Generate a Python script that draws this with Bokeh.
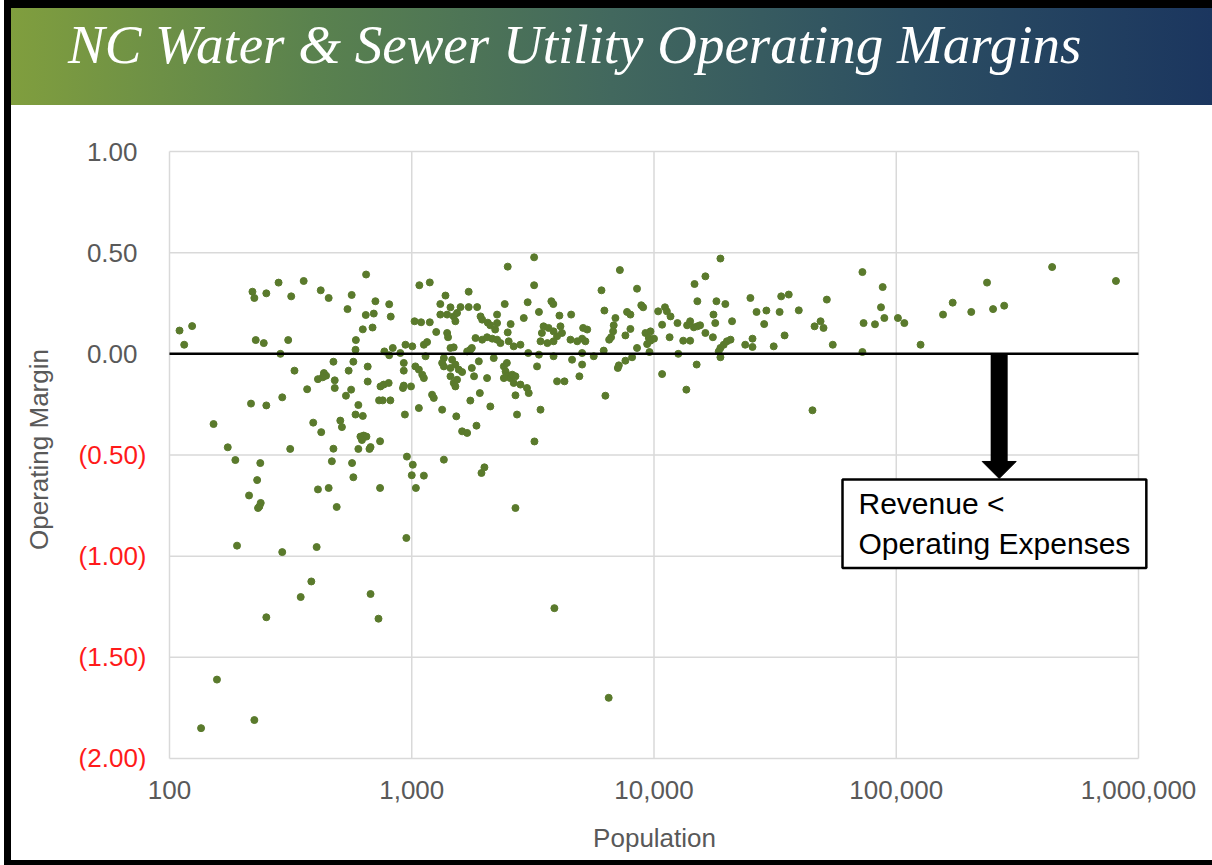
import html
import numpy as np
from bokeh.plotting import figure
from bokeh.models import NumeralTickFormatter, FixedTicker, CustomJSTickFormatter, Div, Label
from bokeh.layouts import column, row
from bokeh.embed import file_html
from bokeh.resources import INLINE
from bokeh.core.properties import value

# ---------------- data ----------------
population = [
    110, 124, 115, 220, 224, 251, 282, 318, 358, 421, 454, 565, 648, 543, 708, 807,
    646, 697, 819, 628, 689, 588, 227, 245, 309, 586, 287, 835, 771, 807, 475, 574,
    658, 328, 549, 927, 434, 443, 410, 429, 481, 481, 370, 562, 535, 658, 743, 766,
    803, 920, 927, 993, 733, 759, 816, 1070, 292, 217, 251, 602, 586, 628, 937, 152,
    392, 423, 507, 515, 614, 633, 650, 623, 740, 602, 676, 669, 174, 187, 315, 475,
    237, 230, 468, 567, 574, 955, 1010, 1000, 213, 238, 232, 235, 410, 454, 490, 740,
    1040, 190, 292, 405, 950, 385, 348, 251, 676, 729, 157, 135, 224, 2680, 3880, 6500,
    1122, 1940,
    3200, 2490, 1075, 1187, 3200, 1718, 1378, 1312, 1445, 1590, 1718, 1862, 2420, 3010,
    3770, 3840, 1312, 1400, 1490, 1514, 1538, 1923, 1953, 2060, 2110, 2250, 2250, 2210,
    2560, 2900, 3350, 4070, 4550, 1027, 1093, 1187, 1262, 1400, 1412, 1833, 1953, 2046,
    2150, 2250, 2323, 2490, 2513, 2636, 2810, 3500, 3670, 3445, 3850, 3980, 4110, 4170,
    3400, 3630, 3850, 4520, 4820, 5050, 5210, 5100, 5300, 942, 1005, 1122, 1157, 1445,
    1490, 1745, 1770, 1693, 897, 1140, 1357, 1468, 2180, 3027, 3350, 3850, 4590, 5050,
    5640, 927, 1035, 1070, 1105, 1122, 1335, 1357, 1445, 1514, 1563, 1614, 1445, 1490,
    1514, 1538, 1770, 1892, 1808, 2046, 2400, 2470, 2440, 2470, 2550, 2600, 2680, 2400,
    2636, 2810, 2990, 3040, 3290, 3980, 4270, 4920, 5050, 1213, 1233, 1335, 1527, 1745,
    1910, 2110, 2680, 2720, 3400, 1614, 1693, 1850, 3210, 1357, 1995,
    18800, 7230, 16300, 14700, 6070, 8510, 25000, 33500, 36000, 15100, 18100, 19700,
    6240, 7740, 7990, 8860, 9020, 10400, 11100, 11300, 11700, 6930, 6820, 6780, 6650,
    6530, 7990, 7620, 9220, 9670, 9520, 10000, 9370, 9670, 10800, 11600, 12500, 13700,
    14100, 14600, 15100, 15500, 14100, 13200, 16300, 17500, 17600, 17900, 21000, 18800,
    19400, 20000, 20700, 18500, 23800, 25500, 25500, 26500, 29100, 28500, 33000, 34600,
    31200, 6200, 8120, 7620, 7160, 7090, 8510, 9580, 12600, 18800, 15000, 10800, 13600,
    6300,
    39600, 51700, 46000, 48700, 50100, 54700, 72500, 87900, 86500, 89300, 73300, 81700,
    72500, 101600, 108000, 126000, 156000, 171000, 204000, 237000, 251000, 279000,
    440000, 807000, 45100,
]
operating_margin = [
    0.115, 0.137, 0.045, 0.307, 0.276, 0.299, 0.352, 0.284, 0.36, 0.314, 0.276, 0.291,
    0.392, 0.221, 0.26, 0.245, 0.192, 0.199, 0.184, 0.121, 0.130, 0.068, 0.068, 0.053,
    0.068, 0.02, 0.0, 0.029, 0.012, -0.007, -0.039, -0.039, -0.063, -0.083, -0.083,
    -0.083, -0.095, -0.108, -0.125, -0.116, -0.131, -0.169, -0.175, -0.177, -0.207,
    -0.137, -0.161, -0.152, -0.144, -0.169, -0.157, -0.161, -0.23, -0.23, -0.23, -0.268,
    -0.215, -0.246, -0.255, -0.253, -0.3, -0.307, -0.3, -0.347, -0.34, -0.387, -0.33,
    -0.362, -0.409, -0.404, -0.409, -0.426, -0.432, -0.47, -0.461, -0.47, -0.462,
    -0.525, -0.47, -0.469, -0.54, -0.624, -0.531, -0.54, -0.61, -0.508, -0.548, -0.6,
    -0.7, -0.737, -0.762, -0.754, -0.67, -0.663, -0.757, -0.663, -0.663, -0.948, -0.98,
    -0.955, -0.91, -1.125, -1.202, -1.302, -1.187, -1.309, -1.61, -1.85, -1.81, -0.762,
    -1.257, -1.70, -0.602, -0.589,
    0.477, 0.431, 0.339, 0.353, 0.339, 0.307, 0.288, 0.246, 0.23, 0.231, 0.231, 0.231,
    0.246, 0.255, 0.26, 0.246, 0.194, 0.194, 0.185, 0.161, 0.202, 0.185, 0.169, 0.154,
    0.141, 0.194, 0.152, 0.12, 0.147, 0.177, 0.207, 0.189, 0.194, 0.161, 0.156, 0.156,
    0.108, 0.103, 0.082, 0.078, 0.07, 0.082, 0.075, 0.07, 0.053, 0.106, 0.062, 0.037,
    0.045, 0.136, 0.128, 0.103, 0.111, 0.087, 0.136, 0.103, 0.062, 0.053, 0.062, 0.07,
    0.062, 0.075, 0.062, 0.128, 0.12, 0.045, 0.037, 0.045, 0.058, 0.029, 0.032, 0.02,
    0.029, 0.012, 0.004, -0.012, -0.021, -0.029, -0.021, 0.004, -0.004, -0.012, -0.029,
    0.004, -0.012, -0.045, -0.062, -0.078, -0.103, -0.12, -0.045, -0.062, -0.07, -0.053,
    -0.078, -0.09, -0.111, -0.144, -0.161, -0.128, -0.07, -0.037, -0.111, -0.12, -0.062,
    -0.045, -0.087, -0.111, -0.12, -0.103, -0.111, -0.12, -0.144, -0.152, -0.169,
    -0.194, -0.062, -0.136, -0.136, -0.111, -0.053, -0.202, -0.218, -0.276, -0.309,
    -0.231, -0.194, -0.26, -0.205, -0.3, -0.276, -0.383, -0.391, -0.355, -0.433, -0.523,
    -0.561,
    0.471, 0.414, 0.383, 0.345, 0.314, 0.322, 0.276, 0.284, 0.293, 0.26, 0.26, 0.246,
    0.214, 0.207, 0.194, 0.24, 0.23, 0.21, 0.23, 0.21, 0.185, 0.177, 0.141, 0.111, 0.082,
    0.07, 0.123, 0.091, 0.103, 0.111, 0.078, 0.075, 0.048, 0.065, 0.144, 0.082, 0.152,
    0.141, 0.161, 0.131, 0.136, 0.141, 0.065, 0.065, 0.103, 0.082, 0.194, 0.152, 0.161,
    0.029, 0.045, 0.062, 0.07, 0.012, 0.045, 0.075, 0.034, 0.207, 0.214, 0.147, 0.207,
    0.091, 0.037, 0.016, -0.017, -0.034, -0.057, -0.07, 0.029, 0.009, 0.0, -0.017,
    -0.053, -0.1, -0.177, -0.207,
    0.215, 0.268, 0.136, 0.161, 0.128, 0.045, 0.404, 0.33, 0.23, 0.177, 0.152, 0.146,
    0.009, 0.177, 0.152, 0.045, 0.194, 0.253, 0.207, 0.352, 0.221, 0.238, 0.429, 0.36,
    -0.279,
]

TITLE = "NC Water & Sewer Utility Operating Margins"
X_LABEL = "Population"
Y_LABEL = "Operating Margin"
X_TICKS = [100, 1000, 10000, 100000, 1000000]
Y_TICKS = [-2.0, -1.5, -1.0, -0.5, 0.0, 0.5, 1.0]
Y_TICK_LABELS = ["(2.00)", "(1.50)", "(1.00)", "(0.50)", "0.00", "0.50", "1.00"]
NOTE_TEXT = "Revenue <\nOperating Expenses"

# annotation anchors (data units)
ARROW_X = 266000
ARROW_HEAD_BASE = -0.537
ARROW_TIP = -0.616
NOTE_X = 60000
NOTE_Y = -0.621

GRAY = "#595959"
GRID = "#d9d9d9"
DOT = "#5a7a2c"
RED = "#ff1a1a"
FONT = "Liberation Sans"

PAGE_W, PAGE_H = 1212, 865
LEFT_B, TOP_B, BOTTOM_B = 11, 8, 5
BANNER_H = 97
FIG_W = PAGE_W - LEFT_B
MAIN_H = PAGE_H - TOP_B - BANNER_H - BOTTOM_B

# pixel layout of the plotting frame (frame is a bit larger than the gridded area
# so that the tick labels drawn next to it are not clipped)
PX_PER_DEC = 242.25
PX_PER_UNIT = 202.33
FRAME_LEFT_PAD = 109    # px between frame left edge and x = 100
FRAME_RIGHT_PAD = 74    # px between x = 1,000,000 and frame right edge
FRAME_TOP_PAD = 23      # px between frame top and y = 1.00
FRAME_BOTTOM_PAD = 12   # px between y = -2.00 and frame bottom
x_start = X_TICKS[0] / 10 ** (FRAME_LEFT_PAD / PX_PER_DEC)
x_end = X_TICKS[-1] * 10 ** (FRAME_RIGHT_PAD / PX_PER_DEC)
y_start = Y_TICKS[0] - FRAME_BOTTOM_PAD / PX_PER_UNIT
y_end = Y_TICKS[-1] + FRAME_TOP_PAD / PX_PER_UNIT
BORDER_TOP = 23
BORDER_BOTTOM = MAIN_H - BORDER_TOP - int(round((y_end - y_start) * PX_PER_UNIT))

# ---------------- banner (HTML) ----------------
gradient = ("linear-gradient(to right, #809e3e 0%, #5a824e 25%, #42685e 50%, "
            "#2c4e62 75%, #1b365f 100%)")
banner = Div(
    text=('<div style="position:relative;width:%dpx;height:%dpx;">'
          '<span style="position:absolute;left:57px;top:9px;white-space:nowrap;'
          "font-family:'Liberation Serif',serif;font-style:italic;font-size:55px;"
          'line-height:55px;color:#ffffff;">%s</span></div>'
          % (FIG_W, BANNER_H, html.escape(TITLE))),
    width=FIG_W, height=BANNER_H, margin=0, styles={"background": gradient})

# ---------------- main chart ----------------
p = figure(width=FIG_W, height=MAIN_H, x_axis_type="log",
           x_range=(x_start, x_end), y_range=(y_start, y_end),
           output_backend="svg", toolbar_location=None,
           min_border_left=49, min_border_right=0, min_border_top=BORDER_TOP,
           min_border_bottom=BORDER_BOTTOM, outline_line_color=None,
           background_fill_color="white", border_fill_color="white")

p.xaxis.ticker = FixedTicker(ticks=X_TICKS)
p.xaxis.formatter = NumeralTickFormatter(format="0,0")
p.yaxis.ticker = FixedTicker(ticks=Y_TICKS)
p.yaxis.formatter = CustomJSTickFormatter(code="return '';")

for ax in (p.xaxis[0], p.yaxis[0]):
    ax.axis_line_color = None
    ax.major_tick_line_color = None
    ax.minor_tick_line_color = None
    ax.major_tick_out = 0
    ax.major_tick_in = 0
    ax.major_label_text_font = FONT
    ax.major_label_text_font_size = "26px"
    ax.major_label_text_color = GRAY
    ax.axis_label_text_font = FONT
    ax.axis_label_text_font_size = "26px"
    ax.axis_label_text_font_style = "normal"
    ax.axis_label_text_color = GRAY

# non-breaking spaces nudge the centred title to the right, as in the original
p.xaxis.axis_label = "\u00a0" * 5 + X_LABEL
p.yaxis.axis_label = Y_LABEL
p.xaxis.major_label_standoff = 10
p.xaxis.axis_label_standoff = 21
p.yaxis.major_label_standoff = 0
p.yaxis.axis_label_standoff = 7

p.grid.visible = False

# grid lines limited to the plotted area
p.segment(x0=X_TICKS[0], x1=X_TICKS[-1], y0=Y_TICKS, y1=Y_TICKS,
          line_color=GRID, line_width=1.5)
p.segment(x0=X_TICKS, x1=X_TICKS, y0=Y_TICKS[0], y1=Y_TICKS[-1],
          line_color=GRID, line_width=1.5)

# y tick labels: gray for positives, red parentheses for negatives
label_colors = [RED if v < 0 else GRAY for v in Y_TICKS]
label_offsets = [-23 if v < 0 else -32 for v in Y_TICKS]
p.text(x=[X_TICKS[0]] * len(Y_TICKS), y=Y_TICKS, text=Y_TICK_LABELS,
       x_offset=label_offsets, text_align="right", text_baseline="middle",
       text_color=label_colors, text_font=value(FONT), text_font_size="26px")

p.scatter(population, operating_margin, size=7, fill_color=DOT, line_color=DOT)

# zero line
p.segment(x0=[X_TICKS[0]], x1=[X_TICKS[-1]], y0=[0], y1=[0],
          line_color="black", line_width=2.5)

# arrow
f = 10 ** (17 / PX_PER_DEC)
p.segment(x0=[ARROW_X], y0=[0], x1=[ARROW_X], y1=[ARROW_HEAD_BASE],
          line_color="black", line_width=17, line_cap="butt")
p.patch(x=[ARROW_X / f, ARROW_X * f, ARROW_X],
        y=[ARROW_HEAD_BASE + 0.005, ARROW_HEAD_BASE + 0.005, ARROW_TIP],
        fill_color="black", line_color="black")

p.add_layout(Label(x=NOTE_X, y=NOTE_Y, text=NOTE_TEXT, text_align="left",
                   text_baseline="top", text_color="black", text_font=FONT,
                   text_font_size="30px", border_line_color="black",
                   border_line_width=2.5, background_fill_color="white",
                   padding=(16, 8)))

# ---------------- black frame around the slide ----------------
left_border = Div(text="", width=LEFT_B, height=PAGE_H, margin=0,
                  styles={"background": "linear-gradient(to right, #ffffff 0px, "
                                        "#ffffff 4px, #000000 4px, #000000 11px)"})
top_border = Div(text="", width=FIG_W, height=TOP_B, margin=0,
                 styles={"background-color": "#000000"})
bottom_border = Div(text="", width=FIG_W, height=BOTTOM_B, margin=0,
                    styles={"background-color": "#000000"})

layout = row(left_border, column(top_border, banner, p, bottom_border))

open("out.html", "w").write(file_html(layout, INLINE))
